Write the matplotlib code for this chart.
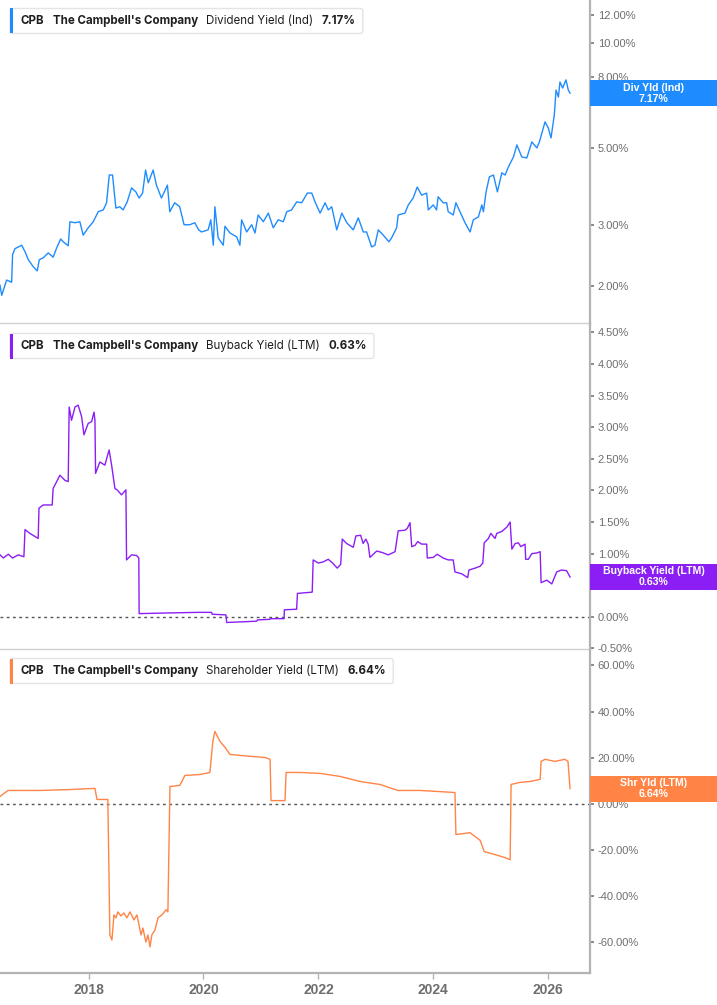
import matplotlib
matplotlib.use("Agg")
import matplotlib.pyplot as plt
import matplotlib.dates as mdates
import matplotlib.ticker as mticker
from matplotlib.patches import Rectangle, FancyBboxPatch
import pandas as pd

plt.rcParams["font.family"] = ["Liberation Sans", "DejaVu Sans"]

# ---- data ----
div_dates = ["2016-06-16", "2016-06-27", "2016-07-28", "2016-08-29", "2016-09-04", "2016-09-19",
             "2016-11-01", "2016-11-22", "2016-12-13", "2017-01-14", "2017-02-08", "2017-02-21",
             "2017-03-18", "2017-04-19", "2017-05-20", "2017-06-11", "2017-07-07", "2017-07-23",
             "2017-08-24", "2017-09-04", "2017-10-06", "2017-11-06", "2017-11-27", "2017-12-29",
             "2018-01-30", "2018-03-03", "2018-04-04", "2018-04-25", "2018-05-12", "2018-06-02",
             "2018-06-23", "2018-07-18", "2018-08-08", "2018-09-03", "2018-10-01", "2018-10-28",
             "2018-11-18", "2018-12-10", "2018-12-29", "2019-01-15", "2019-02-15", "2019-03-08",
             "2019-04-09", "2019-05-17", "2019-06-01", "2019-07-02", "2019-08-03", "2019-08-31",
             "2019-10-06", "2019-11-07", "2019-12-02", "2019-12-19", "2020-01-31", "2020-02-17",
             "2020-03-04", "2020-03-14", "2020-04-04", "2020-05-06", "2020-05-17", "2020-06-18",
             "2020-07-30", "2020-08-20", "2020-08-31", "2020-10-02", "2020-11-03", "2020-11-24",
             "2020-12-14", "2021-01-16", "2021-02-17", "2021-03-20", "2021-04-21", "2021-05-23",
             "2021-06-14", "2021-07-15", "2021-08-16", "2021-09-17", "2021-10-23", "2021-11-20",
             "2021-12-11", "2022-01-12", "2022-02-13", "2022-03-05", "2022-03-27", "2022-04-28",
             "2022-05-30", "2022-07-01", "2022-08-11", "2022-09-12", "2022-10-14", "2022-11-04",
             "2022-12-06", "2022-12-27", "2023-01-17", "2023-02-18", "2023-03-26", "2023-04-12",
             "2023-05-14", "2023-05-24", "2023-07-06", "2023-07-27", "2023-08-27", "2023-09-22",
             "2023-10-20", "2023-11-21", "2023-12-01", "2024-01-02", "2024-01-23", "2024-02-02",
             "2024-03-05", "2024-03-27", "2024-04-06", "2024-05-08", "2024-05-25", "2024-06-20",
             "2024-07-22", "2024-08-23", "2024-09-13", "2024-10-15", "2024-11-06", "2024-11-16",
             "2024-12-03", "2024-12-24", "2025-01-19", "2025-02-13", "2025-03-13", "2025-04-03",
             "2025-04-24", "2025-05-26", "2025-06-17", "2025-07-18", "2025-08-19", "2025-09-20",
             "2025-10-22", "2025-11-07", "2025-12-13", "2026-01-03", "2026-01-20", "2026-02-10",
             "2026-02-21", "2026-03-08", "2026-03-18", "2026-04-04", "2026-04-25", "2026-05-10",
             "2026-05-21"]
div_yield = [2.01, 1.88, 2.08, 2.05, 2.46, 2.56,
             2.62, 2.51, 2.38, 2.27, 2.21, 2.38,
             2.41, 2.49, 2.42, 2.57, 2.73, 2.68,
             2.61, 3.06, 3.04, 3.06, 2.80, 2.94,
             3.06, 3.27, 3.31, 3.47, 4.17, 4.17,
             3.35, 3.38, 3.31, 3.49, 3.83, 3.73,
             3.58, 3.70, 4.31, 3.96, 4.31, 3.90,
             3.58, 3.90, 3.27, 3.47, 3.38, 3.00,
             3.00, 3.04, 2.90, 2.86, 2.90, 3.10,
             2.62, 3.38, 2.75, 2.62, 2.97, 2.84,
             2.77, 2.62, 3.10, 2.86, 3.00, 2.84,
             3.20, 3.06, 3.24, 2.94, 3.10, 3.06,
             3.27, 3.31, 3.49, 3.47, 3.70, 3.70,
             3.49, 3.24, 3.47, 3.31, 3.38, 2.90,
             3.24, 3.04, 2.90, 3.14, 2.86, 2.86,
             2.59, 2.62, 2.90, 2.80, 2.68, 2.75,
             2.94, 3.20, 3.24, 3.42, 3.58, 3.85,
             3.65, 3.70, 3.31, 3.42, 3.31, 3.61,
             3.47, 3.47, 3.27, 3.20, 3.47, 3.27,
             3.04, 2.86, 3.10, 3.16, 3.42, 3.27,
             3.73, 4.12, 4.17, 3.73, 4.23, 4.17,
             4.40, 4.70, 5.09, 4.70, 4.67, 5.19,
             4.99, 5.19, 5.93, 5.69, 5.33, 6.21,
             7.32, 6.99, 7.72, 7.42, 7.83, 7.32,
             7.17]

bb_dates = ["2016-06-16", "2016-07-07", "2016-08-08", "2016-09-04", "2016-10-10", "2016-11-15",
            "2016-11-22", "2016-12-23", "2017-02-14", "2017-02-19", "2017-03-18", "2017-04-18",
            "2017-05-14", "2017-05-20", "2017-07-02", "2017-08-03", "2017-08-24", "2017-08-30",
            "2017-09-14", "2017-10-06", "2017-10-26", "2017-11-17", "2017-12-02", "2017-12-29",
            "2018-01-20", "2018-02-04", "2018-02-10", "2018-02-14", "2018-03-13", "2018-04-14",
            "2018-05-11", "2018-05-27", "2018-06-17", "2018-07-01", "2018-07-29", "2018-08-26",
            "2018-08-30", "2018-10-01", "2018-11-02", "2018-11-16", "2018-11-18", "2019-05-12",
            "2019-11-28", "2020-02-22", "2020-02-26", "2020-05-23", "2020-05-28", "2020-12-05",
            "2020-12-09", "2021-02-27", "2021-03-04", "2021-05-28", "2021-05-30", "2021-08-16",
            "2021-08-21", "2021-11-23", "2021-11-29", "2022-01-01", "2022-02-02", "2022-03-05",
            "2022-04-02", "2022-05-01", "2022-05-23", "2022-06-02", "2022-06-30", "2022-08-11",
            "2022-08-28", "2022-09-27", "2022-10-13", "2022-10-30", "2022-11-14", "2022-11-25",
            "2023-01-07", "2023-02-08", "2023-03-22", "2023-05-04", "2023-05-24", "2023-07-06",
            "2023-07-21", "2023-08-07", "2023-08-18", "2023-09-08", "2023-09-25", "2023-10-20",
            "2023-11-21", "2023-11-25", "2024-01-02", "2024-01-27", "2024-03-05", "2024-04-06",
            "2024-05-08", "2024-05-19", "2024-07-01", "2024-08-08", "2024-08-16", "2024-09-24",
            "2024-10-26", "2024-11-12", "2024-11-21", "2024-12-18", "2025-01-02", "2025-01-29",
            "2025-02-09", "2025-03-13", "2025-04-14", "2025-05-05", "2025-05-16", "2025-06-06",
            "2025-06-27", "2025-07-12", "2025-08-08", "2025-08-12", "2025-08-29", "2025-09-20",
            "2025-10-22", "2025-11-12", "2025-11-18", "2025-12-24", "2026-01-25", "2026-02-25",
            "2026-03-28", "2026-04-29", "2026-05-21"]
bb_yield = [0.98, 0.93, 0.99, 0.93, 0.98, 0.95,
            1.38, 1.32, 1.24, 1.72, 1.77, 1.77,
            1.77, 2.03, 2.24, 2.16, 2.14, 3.32,
            3.11, 3.32, 3.35, 3.17, 2.88, 3.06,
            3.09, 3.24, 3.11, 2.27, 2.45, 2.40,
            2.64, 2.40, 2.03, 2.01, 1.93, 2.01,
            0.90, 0.98, 0.97, 0.93, 0.05, 0.06,
            0.07, 0.07, 0.04, 0.03, -0.09, -0.07,
            -0.05, -0.04, -0.03, -0.03, 0.11, 0.12,
            0.37, 0.39, 0.90, 0.85, 0.87, 0.91,
            0.85, 0.77, 0.83, 1.23, 1.16, 1.10,
            1.28, 1.29, 1.16, 1.23, 1.15, 0.94,
            1.04, 1.02, 0.98, 1.03, 1.36, 1.37,
            1.40, 1.49, 1.11, 1.13, 1.19, 1.15,
            1.15, 0.93, 0.94, 0.99, 0.93, 0.90,
            0.90, 0.71, 0.68, 0.62, 0.74, 0.77,
            0.80, 0.85, 1.17, 1.24, 1.32, 1.24,
            1.32, 1.35, 1.42, 1.50, 1.07, 1.16,
            1.17, 1.11, 1.15, 0.91, 0.91, 1.00,
            1.01, 1.03, 0.54, 0.58, 0.52, 0.71,
            0.74, 0.73, 0.63]

sh_dates = ["2016-06-16", "2016-08-06", "2017-02-25", "2017-09-04", "2018-02-10", "2018-02-23",
            "2018-05-03", "2018-05-16", "2018-05-29", "2018-06-11", "2018-06-23", "2018-07-06",
            "2018-07-25", "2018-08-13", "2018-09-01", "2018-09-21", "2018-10-16", "2018-11-04",
            "2018-11-30", "2018-12-12", "2018-12-31", "2019-01-13", "2019-01-26", "2019-02-07",
            "2019-02-27", "2019-03-18", "2019-04-12", "2019-05-08", "2019-05-20", "2019-06-02",
            "2019-08-04", "2019-09-05", "2019-12-09", "2020-02-11", "2020-03-01", "2020-03-14",
            "2020-04-15", "2020-05-17", "2020-06-18", "2020-10-23", "2021-01-27", "2021-02-28",
            "2021-03-06", "2021-06-03", "2021-06-10", "2021-09-06", "2022-01-12", "2022-05-18",
            "2022-09-23", "2023-01-28", "2023-05-22", "2023-10-09", "2024-02-13", "2024-05-19",
            "2024-05-25", "2024-08-23", "2024-10-26", "2024-11-21", "2025-01-29", "2025-04-03",
            "2025-05-05", "2025-05-11", "2025-07-07", "2025-09-09", "2025-11-12", "2025-11-18",
            "2025-12-13", "2026-02-14", "2026-04-18", "2026-05-08", "2026-05-21"]
sh_yield = [3.2, 5.8, 5.8, 6.2, 6.7, 1.9,
            1.9, -56.8, -59.0, -48.1, -49.4, -46.8,
            -48.6, -47.3, -49.4, -46.8, -50.3, -48.1,
            -56.8, -53.8, -59.9, -56.8, -62.0, -56.8,
            -54.6, -49.4, -48.1, -45.9, -46.8, 7.5,
            8.0, 12.3, 12.7, 13.6, 27.1, 31.4,
            27.1, 24.5, 21.4, 20.6, 20.1, 19.3,
            1.4, 1.4, 13.6, 13.6, 13.2, 11.9,
            9.7, 8.4, 5.8, 5.8, 5.3, 4.9,
            -13.3, -12.5, -15.8, -20.7, -22.0, -23.3,
            -24.2, 8.4, 9.3, 9.7, 10.6, 18.4,
            19.3, 18.4, 19.3, 18.4, 6.64]

ticker_name = ["CPB", "The Campbell's Company"]
metric_names = ["Dividend Yield (Ind)", "Buyback Yield (LTM)", "Shareholder Yield (LTM)"]
badge_names = ["Div Yld (Ind)", "Buyback Yield (LTM)", "Shr Yld (LTM)"]
last_values = [7.17, 0.63, 6.64]
colors = ["#1e8cff", "#8b1ef5", "#ff8446"]

W, H = 717, 1005
fig = plt.figure(figsize=(W / 100, H / 100), dpi=100)

def panel(top, bottom):
    return fig.add_axes([0, 1 - bottom / H, 590 / W, (bottom - top) / H])

ax1 = panel(0, 323)
ax2 = panel(323, 649)
ax3 = panel(649, 973)
axes = [ax1, ax2, ax3]

ax1.plot(pd.to_datetime(div_dates), div_yield, color=colors[0], lw=1.0)
ax2.plot(pd.to_datetime(bb_dates), bb_yield, color=colors[1], lw=1.0)
ax3.plot(pd.to_datetime(sh_dates), sh_yield, color=colors[2], lw=1.0)

ax1.set_yscale("log")
ax1.set_ylim(1.565, 13.29)
ax1.yaxis.set_major_locator(mticker.FixedLocator([2, 3, 5, 7, 8, 10, 12]))
ax1.yaxis.set_minor_locator(mticker.NullLocator())

ax2.set_ylim(-0.51, 4.65)
ax2.yaxis.set_major_locator(mticker.MultipleLocator(0.5))
ax3.set_ylim(-73.3, 67.1)
ax3.yaxis.set_major_locator(mticker.MultipleLocator(20))

for ax in (ax2, ax3):
    ax.axhline(0, color="#555555", lw=1.0, ls=(0, (2, 2.5)), zorder=1)

xmin, xmax = pd.Timestamp("2016-06-16"), pd.Timestamp("2026-09-25")
for ax in axes:
    ax.set_xlim(xmin, xmax)
    for s in ("top", "left"):
        ax.spines[s].set_visible(False)
    ax.spines["right"].set_color("#b3b3b3")
    ax.spines["right"].set_linewidth(1.6)
    ax.spines["bottom"].set_color("#d0d0d0")
    ax.spines["bottom"].set_linewidth(1.0)
    ax.yaxis.tick_right()
    ax.yaxis.set_major_formatter(mticker.FuncFormatter(lambda v, p: f"{v:.2f}%"))
    ax.tick_params(axis="y", which="major", length=3, width=1.2, color="#777777",
                   labelsize=8, labelcolor="#6e6e6e", pad=2.5)
    ax.patch.set_alpha(0)

for ax in (ax1, ax2):
    ax.tick_params(axis="x", which="both", bottom=False, labelbottom=False)

ax3.spines["bottom"].set_color("#b3b3b3")
ax3.spines["bottom"].set_linewidth(1.6)
ax3.xaxis.set_major_locator(mdates.YearLocator(2))
ax3.xaxis.set_major_formatter(mdates.DateFormatter("%Y"))
ax3.tick_params(axis="x", length=4, width=1, color="#b3b3b3", labelsize=10,
                labelcolor="#6e6e6e", pad=3)
for lbl in ax3.get_xticklabels():
    lbl.set_fontweight("bold")

# legend boxes in the top-left of each panel
legend_centers = [21, 346, 671]
groups = []
for i, yc in enumerate(legend_centers):
    parts = [(ticker_name[0], "bold"), (ticker_name[1], "bold"),
             (metric_names[i], "normal"), (f"{last_values[i]:.2f}%", "bold")]
    grp = []
    for s, w in parts:
        grp.append(fig.text(0, 1 - yc / H, s, fontsize=8.3, fontweight=w, color="#1f1f1f",
                            va="center", ha="left", family=["Inter", "DejaVu Sans"], zorder=5))
    groups.append(grp)

# place the text pieces one after another using measured widths
fig.canvas.draw()
renderer = fig.canvas.get_renderer()
gap = 8.5
for i, yc in enumerate(legend_centers):
    x = 20.5
    for t in groups[i]:
        t.set_position((x / W, 1 - yc / H))
        x += t.get_window_extent(renderer).width + gap
    right = x - gap + 7
    fig.patches.append(FancyBboxPatch((10 / W, 1 - (yc + 12.5) / H), (right - 10) / W, 25 / H,
                                      boxstyle="round,pad=0,rounding_size=0.003",
                                      transform=fig.transFigure, facecolor="white",
                                      edgecolor="#e4e4e4", lw=1.0, zorder=2))
    fig.patches.append(Rectangle((10 / W, 1 - (yc + 12.5) / H), 3 / W, 25 / H,
                                 transform=fig.transFigure, facecolor=colors[i],
                                 edgecolor="none", zorder=3))

# value badges on the right axis
for i, ax in enumerate(axes):
    ydisp = ax.transData.transform((mdates.date2num(xmax), last_values[i]))[1]
    yc = H - ydisp
    fig.patches.append(Rectangle((590 / W, 1 - (yc + 13) / H), 127 / W, 26 / H,
                                 transform=fig.transFigure, facecolor=colors[i],
                                 edgecolor="none", zorder=4))
    fig.text(653.5 / W, 1 - (yc - 5.5) / H, badge_names[i], color="white", fontsize=7.6,
             fontweight="bold", ha="center", va="center", zorder=6)
    fig.text(653.5 / W, 1 - (yc + 5.5) / H, f"{last_values[i]:.2f}%", color="white",
             fontsize=7.6, fontweight="bold", ha="center", va="center", zorder=6)

fig.savefig("out.png", dpi=100)
